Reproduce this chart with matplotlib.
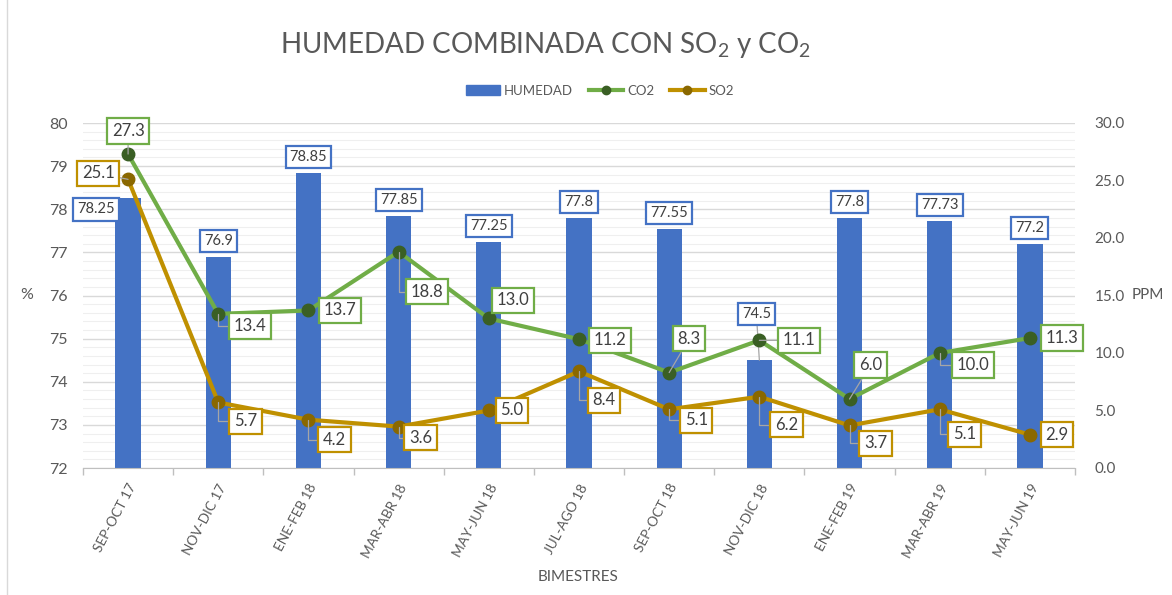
import matplotlib
matplotlib.use("Agg")
import matplotlib.pyplot as plt
import numpy as np
from matplotlib.lines import Line2D
from matplotlib.patches import Patch

categories = ["SEP-OCT 17", "NOV-DIC 17", "ENE-FEB 18", "MAR-ABR 18", "MAY-JUN 18",
              "JUL-AGO 18", "SEP-OCT 18", "NOV-DIC 18", "ENE-FEB 19", "MAR-ABR 19", "MAY-JUN 19"]
humedad = [78.25, 76.9, 78.85, 77.85, 77.25, 77.8, 77.55, 74.5, 77.8, 77.73, 77.2]
co2 = [27.3, 13.4, 13.7, 18.8, 13.0, 11.2, 8.3, 11.1, 6.0, 10.0, 11.3]
so2 = [25.1, 5.7, 4.2, 3.6, 5.0, 8.4, 5.1, 6.2, 3.7, 5.1, 2.9]
hum_labels = ["78.25", "76.9", "78.85", "77.85", "77.25", "77.8", "77.55", "74.5", "77.8", "77.73", "77.2"]

# label offsets in pixels (dx right, dy down) and leader styles
hum_off = [(-32, 11), (0, -16), (0, -16), (0, -16), (0, -16), (0, -16), (0, -16),
           (-3, -46), (0, -16), (0, -16), (0, -16)]
hum_lead = [None] * 7 + ['s'] + [None] * 3
co2_off = [(0, -23), (32, 12), (32, 0), (28, 40), (24, -18), (31, 1), (20, -34),
           (40, 0), (21, -34), (33, 12), (32, 0)]
co2_lead = ['s', 'e', None, 'e', None, None, 's', 's', 's', 'e', None]
so2_off = [(-30, -6), (27, 19), (26, 20), (22, 11), (23, 0), (25, 29), (27, 11),
           (27, 28), (26, 18), (25, 25), (27, 0)]
so2_lead = ['s', 'e', 'e', 'e', None, 'e', 'e', 'e', 'e', 'e', None]

BLUE = "#4472C4"
GREEN = "#70AD47"
DGREEN = "#3A5F24"
GOLD = "#BF9000"
DGOLD = "#8A6800"
GRAY = "#595959"
FONT = "Lato"

plt.rcParams['font.family'] = [FONT, 'DejaVu Sans']

W, H = 1172, 595
fig = plt.figure(figsize=(W / 100, H / 100), dpi=100)
x0, x1, ytop, ybot = 83, 1075, 123, 468
ax = fig.add_axes([x0 / W, 1 - ybot / H, (x1 - x0) / W, (ybot - ytop) / H])
ax2 = ax.twinx()

x = np.arange(len(categories))
ax.bar(x, [h - 72 for h in humedad], bottom=72, width=0.28, color=BLUE, zorder=2)
ax.set_xlim(-0.5, len(categories) - 0.5)
ax.set_ylim(72, 80)
ax.set_yticks(np.arange(72, 81, 1))
ax.set_yticks(np.arange(72, 80.01, 0.2), minor=True)
ax.yaxis.grid(True, which='major', color="#D9D9D9", lw=1.0, zorder=0)
ax.yaxis.grid(True, which='minor', color="#EFEFEF", lw=0.8, zorder=0)
ax.set_axisbelow(True)
ax.tick_params(axis='y', which='both', length=0, labelsize=11.5, labelcolor=GRAY, pad=11)
ax.set_xticks(x)
ax.set_xticklabels(categories, rotation=62, ha='right', rotation_mode='anchor',
                   fontsize=9.8, color=GRAY)
ax.tick_params(axis='x', which='major', length=0, pad=10)
ax.set_xticks(np.arange(-0.5, len(categories) + 0.5, 1), minor=True)
ax.tick_params(axis='x', which='minor', length=5, color="#BFBFBF", width=1)
for s in ['top', 'left', 'right']:
    ax.spines[s].set_visible(False)
    ax2.spines[s].set_visible(False)
ax.spines['bottom'].set_color("#BFBFBF")
ax2.spines['bottom'].set_visible(False)

ax2.plot(x, co2, color=GREEN, lw=3, marker='o', ms=9, mfc=DGREEN, mec=DGREEN, zorder=3)
ax2.plot(x, so2, color=GOLD, lw=3, marker='o', ms=9, mfc=DGOLD, mec=DGOLD, zorder=3)
ax2.set_ylim(0, 30)
ax2.set_yticks(np.arange(0, 31, 5))
ax2.yaxis.set_major_formatter(matplotlib.ticker.FormatStrFormatter('%.1f'))
ax2.tick_params(axis='y', length=0, labelsize=11, labelcolor=GRAY, pad=14)

ax.set_ylabel("%", rotation=0, fontsize=11.5, color=GRAY, va='center', ha='center')
ax.yaxis.set_label_coords((27 - x0) / (x1 - x0), 0.5)
ax2.set_ylabel("PPM", rotation=0, fontsize=11, color=GRAY, va='center', ha='left')
ax2.yaxis.set_label_coords((1132 - x0) / (x1 - x0), 0.5)
ax.set_xlabel("BIMESTRES", fontsize=11, color=GRAY)
ax.xaxis.set_label_coords((578 - x0) / (x1 - x0), -(570 - ybot) / (ybot - ytop))

def boxed(axis, xi, yi, txt, off, ec, fs, leader):
    ap = None
    if leader == 's':
        ap = dict(arrowstyle='-', color="#A6A6A6", lw=0.9, shrinkA=0, shrinkB=0)
    elif leader == 'e':
        ap = dict(arrowstyle='-', color="#A6A6A6", lw=0.9, shrinkA=0, shrinkB=0,
                  connectionstyle="angle,angleA=0,angleB=90,rad=0")
    axis.annotate(txt, xy=(xi, yi), xytext=(off[0], -off[1]), textcoords='offset pixels',
                  ha='center', va='center', fontsize=fs, color="#404040",
                  bbox=dict(boxstyle='square,pad=0.28', fc='white', ec=ec, lw=1.6),
                  arrowprops=ap, zorder=5)

for i in range(len(categories)):
    boxed(ax, x[i], humedad[i], hum_labels[i], hum_off[i], BLUE, 10.5, hum_lead[i])
for i in range(len(categories)):
    boxed(ax2, x[i], co2[i], f"{co2[i]:.1f}", co2_off[i], GREEN, 12, co2_lead[i])
    boxed(ax2, x[i], so2[i], f"{so2[i]:.1f}", so2_off[i], GOLD, 12, so2_lead[i])

fig.text(545 / W, 1 - 45 / H, r"HUMEDAD COMBINADA CON SO$\mathregular{_2}$ y CO$\mathregular{_2}$",
         ha='center', va='center', fontsize=20, color=GRAY)

handles = [Patch(color=BLUE, label="HUMEDAD"),
           Line2D([], [], color=GREEN, lw=3, marker='o', ms=6, mfc=DGREEN, mec=DGREEN, label="CO2"),
           Line2D([], [], color=GOLD, lw=3, marker='o', ms=6, mfc=DGOLD, mec=DGOLD, label="SO2")]
fig.legend(handles=handles, loc='center', bbox_to_anchor=(600 / W, 1 - 91 / H), ncol=3,
           frameon=False, fontsize=9.5, labelcolor=GRAY, handlelength=2.6, handleheight=0.8,
           columnspacing=1.2, handletextpad=0.3)

fig.add_artist(Line2D([7 / W, 7 / W], [0, 1], color="#D9D9D9", lw=1))

fig.savefig("out.png", dpi=100)
